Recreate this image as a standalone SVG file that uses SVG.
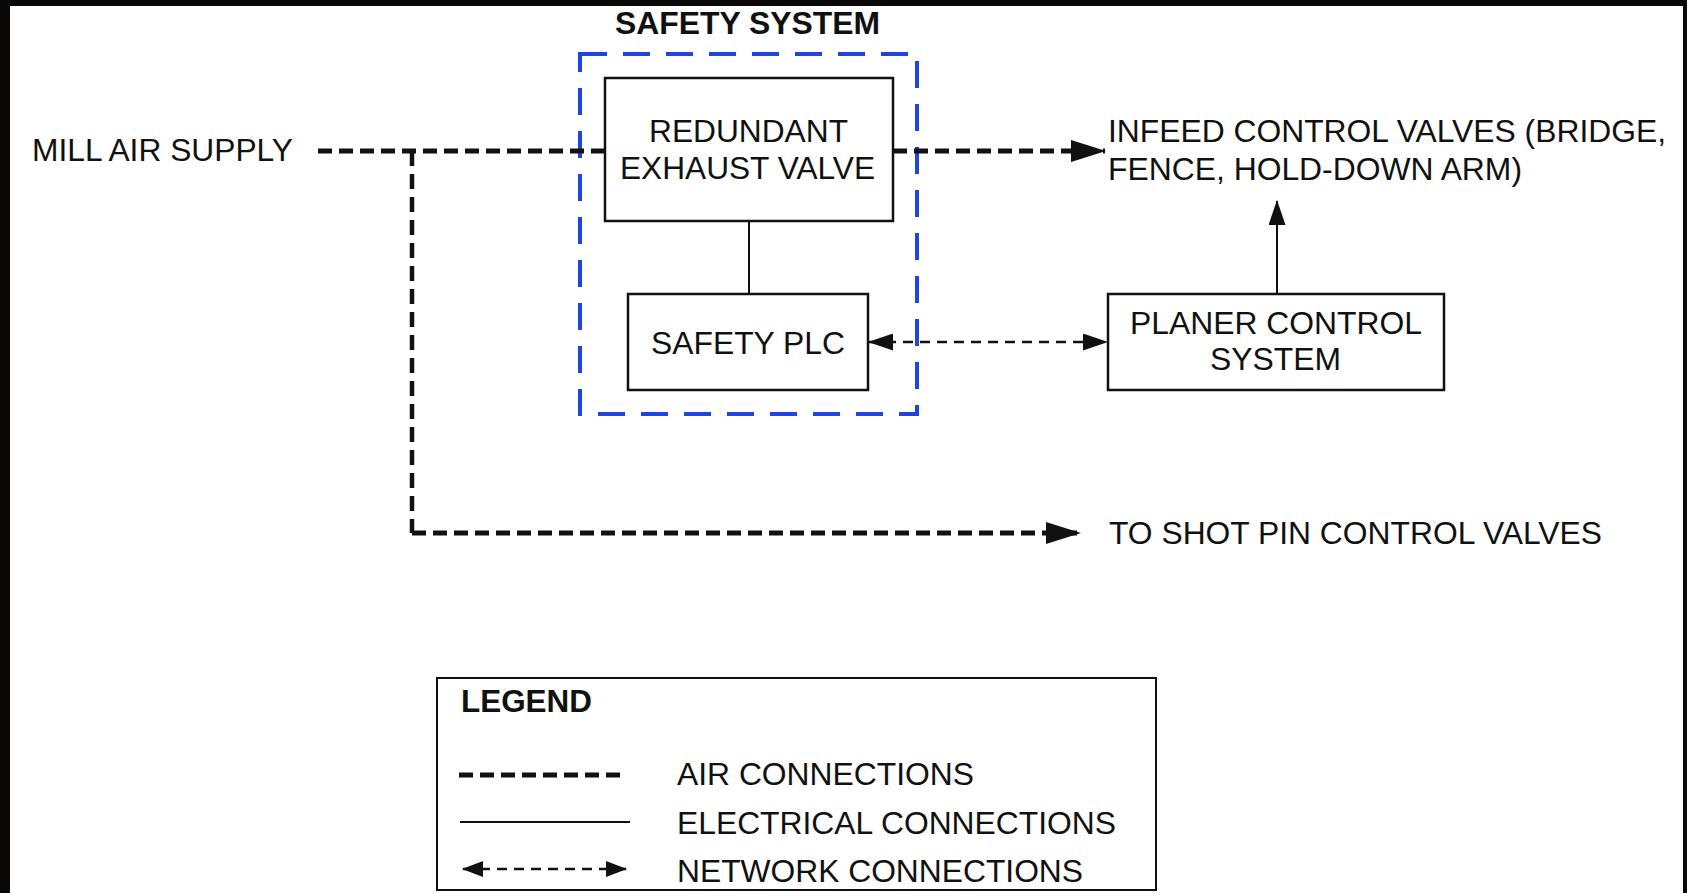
<svg xmlns="http://www.w3.org/2000/svg" width="1687" height="893" viewBox="0 0 1687 893">
<style>
  text { font-family: "Liberation Sans", Arial, sans-serif; font-size: 31px; fill: #111; }
  .b { font-weight: bold; }
  .c { text-anchor: middle; }
  .box { fill: #fff; stroke: #111; stroke-width: 2.5; }
  .air { fill: none; stroke: #111; stroke-width: 5; stroke-dasharray: 14 7; }
  .airv { fill: none; stroke: #111; stroke-width: 4.5; stroke-dasharray: 15 8; }
  .elec { fill: none; stroke: #111; stroke-width: 2; }
  .net { fill: none; stroke: #111; stroke-width: 2.5; stroke-dasharray: 10 7; }
  .safety { fill: none; stroke: #1f45e0; stroke-width: 4; stroke-dasharray: 27 16; }
</style>
<defs>
  <marker id="airHead" markerUnits="userSpaceOnUse" viewBox="0 0 35 22" refX="34" refY="11" markerWidth="35" markerHeight="22" orient="auto">
    <path d="M0,0 L35,11 L0,22 z" fill="#111"/>
  </marker>
  <marker id="head" markerUnits="userSpaceOnUse" viewBox="0 0 25 17" refX="24" refY="8.5" markerWidth="25" markerHeight="17" orient="auto-start-reverse">
    <path d="M0,0 L25,8.5 L0,17 z" fill="#111"/>
  </marker>
  <marker id="smallHead" markerUnits="userSpaceOnUse" viewBox="0 0 21 16" refX="20" refY="8" markerWidth="21" markerHeight="16" orient="auto-start-reverse">
    <path d="M0,0 L21,8 L0,16 z" fill="#111"/>
  </marker>
</defs>

<rect x="0" y="0" width="1687" height="893" fill="#0a0806"/>
<rect x="10" y="6" width="1673" height="887" fill="#ffffff"/>

<g id="safety-system">
  <rect class="safety" x="580" y="54" width="337" height="360"/>
  <text class="b" x="615" y="34" textLength="265" lengthAdjust="spacingAndGlyphs">SAFETY SYSTEM</text>
</g>

<g id="connectors">
  <path class="air" d="M318,151 H605"/>
  <path class="air" d="M893,151 H1105" marker-end="url(#airHead)"/>
  <path class="airv" d="M412,151 V533"/>
  <path class="air" d="M412,533 H1080" marker-end="url(#airHead)"/>
  <path class="elec" d="M749,221 V294"/>
  <path class="elec" d="M1277,294 V201" marker-end="url(#head)"/>
  <path class="net" d="M869,342 H1107" marker-start="url(#head)" marker-end="url(#head)"/>
</g>

<g id="mill-air-supply">
  <text x="32" y="161" textLength="261" lengthAdjust="spacingAndGlyphs">MILL AIR SUPPLY</text>
</g>

<g id="redundant-exhaust-valve">
  <rect class="box" x="605" y="78" width="288" height="143"/>
  <text x="649" y="142" textLength="199" lengthAdjust="spacingAndGlyphs">REDUNDANT</text>
  <text x="620" y="179" textLength="255" lengthAdjust="spacingAndGlyphs">EXHAUST VALVE</text>
</g>

<g id="safety-plc">
  <rect class="box" x="628" y="294" width="240" height="96"/>
  <text x="651" y="354" textLength="194" lengthAdjust="spacingAndGlyphs">SAFETY PLC</text>
</g>

<g id="planer-control-system">
  <rect class="box" x="1108" y="294" width="336" height="96"/>
  <text x="1130" y="334" textLength="292" lengthAdjust="spacingAndGlyphs">PLANER CONTROL</text>
  <text x="1210" y="370" textLength="131" lengthAdjust="spacingAndGlyphs">SYSTEM</text>
</g>

<g id="infeed-control-valves">
  <text x="1108" y="142" textLength="558" lengthAdjust="spacingAndGlyphs">INFEED CONTROL VALVES (BRIDGE,</text>
  <text x="1108" y="180" textLength="414" lengthAdjust="spacingAndGlyphs">FENCE, HOLD-DOWN ARM)</text>
</g>

<g id="shot-pin-control-valves">
  <text x="1109" y="544" textLength="493" lengthAdjust="spacingAndGlyphs">TO SHOT PIN CONTROL VALVES</text>
</g>

<g id="legend">
  <rect x="437" y="678" width="719" height="212" fill="#fff" stroke="#111" stroke-width="2"/>
  <text class="b" x="461" y="712" textLength="131" lengthAdjust="spacingAndGlyphs">LEGEND</text>
  <path class="air" d="M459,775 H624" stroke-dasharray="13 6"/>
  <path class="elec" d="M460,822 H630"/>
  <path class="net" d="M463,869 H626" stroke-dasharray="10 7" marker-start="url(#smallHead)" marker-end="url(#smallHead)"/>
  <text x="677" y="785" textLength="297" lengthAdjust="spacingAndGlyphs">AIR CONNECTIONS</text>
  <text x="677" y="834" textLength="439" lengthAdjust="spacingAndGlyphs">ELECTRICAL CONNECTIONS</text>
  <text x="677" y="882" textLength="406" lengthAdjust="spacingAndGlyphs">NETWORK CONNECTIONS</text>
</g>
</svg>
